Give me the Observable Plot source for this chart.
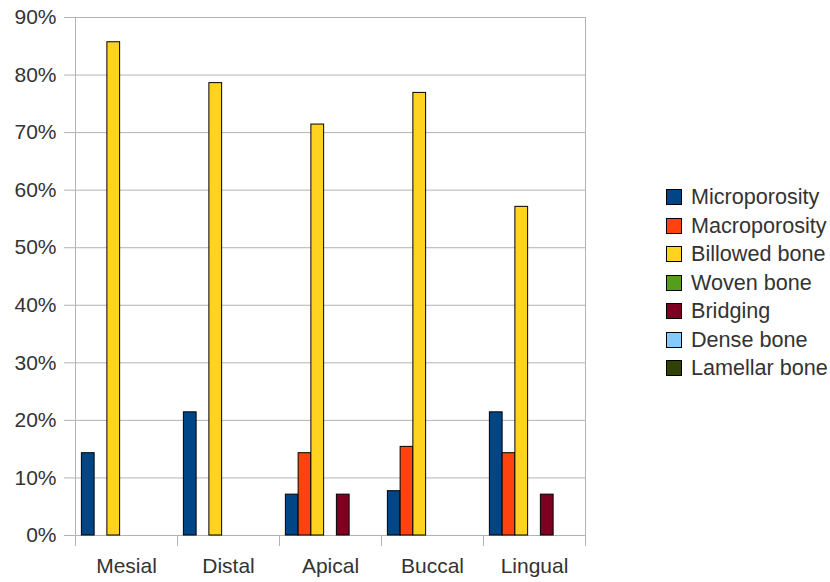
<!DOCTYPE html>
<html>
<head>
<meta charset="utf-8">
<script src="https://cdn.jsdelivr.net/npm/d3@7"></script>
<script src="https://cdn.jsdelivr.net/npm/@observablehq/plot@0.6"></script>
<style>
  html, body { margin: 0; padding: 0; background: #fff; }
  #wrap { position: relative; width: 830px; height: 582px; font-family: "Liberation Sans", Arial, sans-serif; }
  #chart { position: absolute; left: 0; top: 0; }
  #legend { position: absolute; left: 666px; top: 183px; color: #333; font-size: 21.6px; }
  .item { display: flex; align-items: center; height: 28.5px; white-space: nowrap; }
  .swatch { width: 14px; height: 14px; border: 1px solid #000; margin-right: 9px; flex: none; }
</style>
</head>
<body>
<div id="wrap"><div id="chart"></div><div id="legend"></div></div>
<script>
// Sites around the implant and the bone features observed at each (percent of samples)
const sites = ["Mesial", "Distal", "Apical", "Buccal", "Lingual"];
const features = ["Microporosity", "Macroporosity", "Billowed bone", "Woven bone", "Bridging", "Dense bone", "Lamellar bone"];
const colors = ["#004586", "#ff420e", "#ffd320", "#579d1c", "#7e0021", "#83caff", "#314004"];

const microporosity = [14.3, 21.4, 7.1, 7.7, 21.4];
const macroporosity = [0, 0, 14.3, 15.4, 14.3];
const billowedBone  = [85.7, 78.6, 71.4, 76.9, 57.1];
const wovenBone     = [0, 0, 0, 0, 0];
const bridging      = [0, 0, 7.1, 0, 7.1];
const denseBone     = [0, 0, 0, 0, 0];
const lamellarBone  = [0, 0, 0, 0, 0];

const yTicks = [0, 10, 20, 30, 40, 50, 60, 70, 80, 90];

const series = [microporosity, macroporosity, billowedBone, wovenBone, bridging, denseBone, lamellarBone];
const rows = [];
sites.forEach((site, i) => features.forEach((f, j) => rows.push({site, feature: f, value: series[j][i]})));
const bars = rows.filter(d => d.value > 0);

const grid = "#b3b3b3";
const W = 600, H = 582, mL = 75, mR = 15, mT = 17, mB = 47;

const plot = Plot.plot({
  width: W,
  height: H,
  marginLeft: mL,
  marginRight: mR,
  marginTop: mT,
  marginBottom: mB,
  style: {fontFamily: "'Liberation Sans', Arial, sans-serif", fontSize: "21px", color: "#333", background: "transparent"},
  fx: {domain: sites, paddingInner: 0, paddingOuter: 0, round: false, label: null},
  x: {domain: features, paddingInner: 0, paddingOuter: 0.5, round: false, axis: null},
  y: {domain: [0, 90], ticks: yTicks, label: null},
  color: {domain: features, range: colors},
  marks: [
    Plot.ruleY(yTicks, {stroke: grid, strokeWidth: 1}),
    Plot.axisY({ticks: yTicks, tickFormat: d => d + "%", tickSize: 11, tickPadding: 8, stroke: grid, fill: "#333", fontSize: 21}),
    Plot.axisFx({anchor: "bottom", tickSize: 0, tickPadding: 23, fill: "#333", fontSize: 21}),
    Plot.barY(bars, {fx: "site", x: "feature", y: "value", fill: "feature", stroke: "#000", strokeWidth: 1})
  ]
});

// Frame edges and category separators along the bottom axis
const fx = plot.scale("fx");
const band = d3.scaleBand(fx.domain, [mL, W - mR]).paddingInner(0).paddingOuter(0);
const svg = d3.select(plot);
const edges = sites.map(s => band(s)).concat([band(sites[sites.length - 1]) + band.bandwidth()]);
const y0 = H - mB, yTop = mT;
svg.append("g")
  .attr("stroke", grid)
  .attr("stroke-width", 1)
  .selectAll("line")
  .data(edges)
  .join("line")
  .attr("x1", d => Math.round(d) + 0.5)
  .attr("x2", d => Math.round(d) + 0.5)
  .attr("y1", (d, i) => (i === 0 || i === edges.length - 1) ? yTop : y0)
  .attr("y2", y0 + 11);

document.getElementById("chart").appendChild(plot);

// Legend
const legend = d3.select("#legend");
features.forEach((f, i) => {
  const item = legend.append("div").attr("class", "item");
  item.append("div").attr("class", "swatch").style("background", colors[i]);
  item.append("span").text(f);
});
</script>
</body>
</html>
